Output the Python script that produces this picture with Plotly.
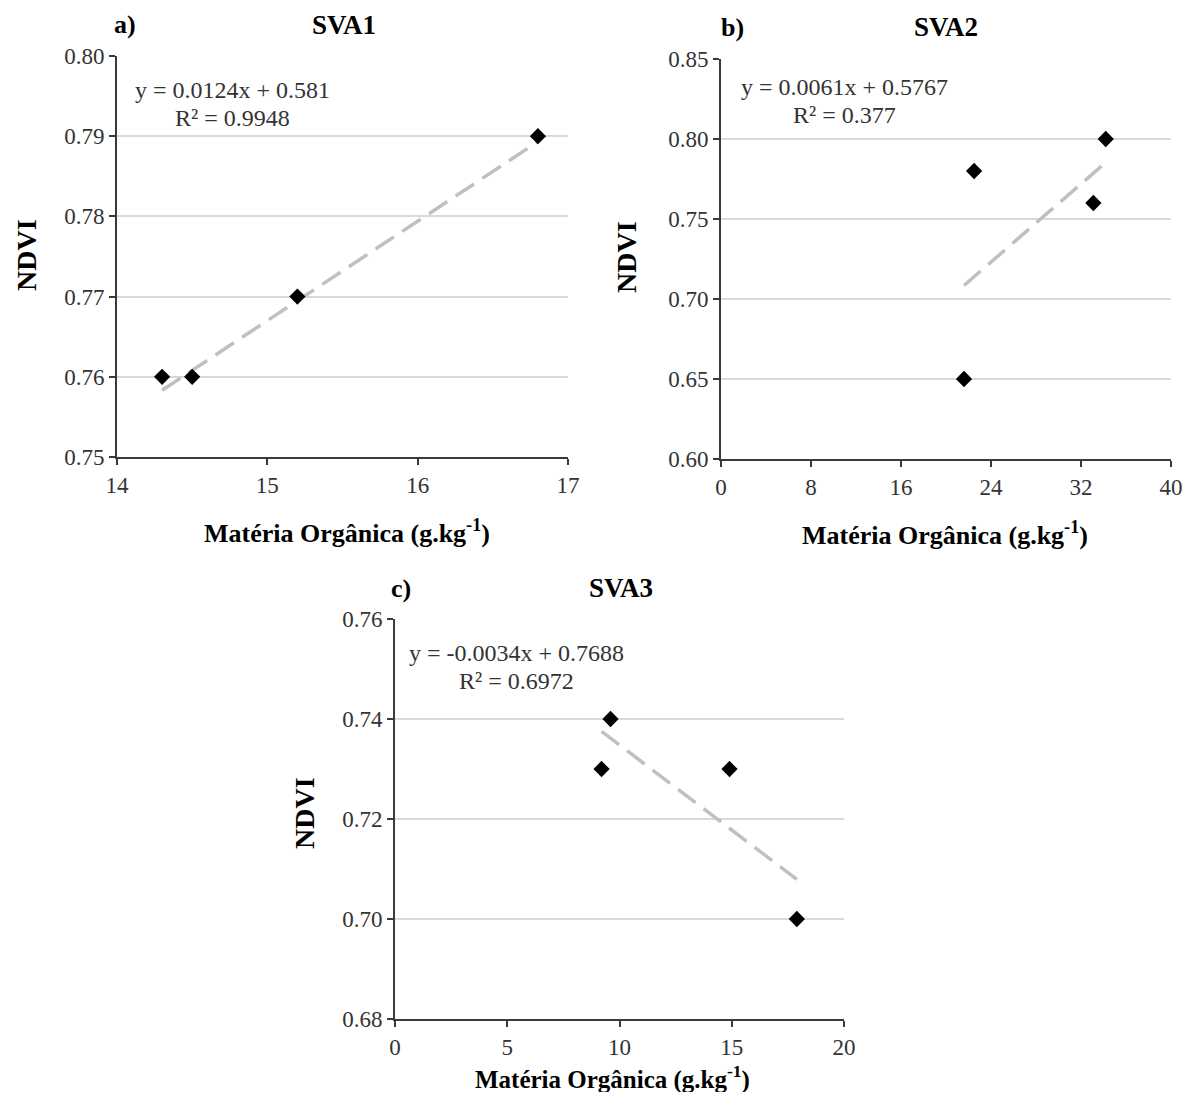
import plotly.graph_objects as go

# page is 1192x1100; the html body has an 8px margin, so the figure is drawn 8px in
PAGE_OFF = 8
W, H = 1192 - 2 * PAGE_OFF, 1100 - 2 * PAGE_OFF

# ---------------- data ----------------
panel_labels = ["a)", "b)", "c)"]
panel_titles = ["SVA1", "SVA2", "SVA3"]

mo_a = [14.3, 14.5, 15.2, 16.8]
ndvi_a = [0.76, 0.76, 0.77, 0.79]
mo_b = [21.6, 22.5, 33.1, 34.2]
ndvi_b = [0.65, 0.78, 0.76, 0.80]
mo_c = [9.2, 9.6, 14.9, 17.9]
ndvi_c = [0.73, 0.74, 0.73, 0.70]

slopes = [0.0124, 0.0061, -0.0034]
intercepts = [0.581, 0.5767, 0.7688]
eq_texts = ["y = 0.0124x + 0.581", "y = 0.0061x + 0.5767", "y = -0.0034x + 0.7688"]
r2_texts = ["R² = 0.9948", "R² = 0.377", "R² = 0.6972"]

x_ranges = [[14, 17], [0, 40], [0, 20]]
x_dticks = [1, 8, 5]
y_ranges = [[0.75, 0.80], [0.60, 0.85], [0.68, 0.76]]
y_dticks = [0.01, 0.05, 0.02]

x_title = "Matéria Orgânica (g.kg<sup>-1</sup>)"
y_title = "NDVI"

xs = [mo_a, mo_b, mo_c]
ys = [ndvi_a, ndvi_b, ndvi_c]

# ---------------- layout geometry (page pixels) ----------------
boxes = [(117, 568, 56, 457), (721, 1171, 59, 459), (395, 844, 619, 1019)]
label_pos = [(112, 25), (719, 27), (389, 588)]
title_pos = [(344, 25), (946, 27), (621, 588)]
eq_pos = [(232, 90, 118), (844, 87, 115), (516, 653, 681)]
xt_pos = [(347, 531), (945, 533), (612, 1077)]
xt_size = [26, 26, 25]
yt_pos = [(27, 255), (627, 257), (304, 813)]

def px(x):
    return (x - PAGE_OFF) / W

def py(y):
    return 1 - (y - PAGE_OFF) / H

FONT = "Liberation Serif"
AX = "#3a3a3a"

fig = go.Figure()
annotations = []
for i in range(3):
    sfx = "" if i == 0 else str(i + 1)
    xa, ya = "x" + sfx, "y" + sfx
    x0 = min(xs[i]); x1 = max(xs[i])
    fig.add_trace(go.Scatter(
        x=[x0, x1], y=[slopes[i] * x0 + intercepts[i], slopes[i] * x1 + intercepts[i]],
        mode="lines", line=dict(color="#c0c0c0", width=3.5, dash="22px,10px"),
        xaxis=xa, yaxis=ya, showlegend=False, hoverinfo="skip"))
    fig.add_trace(go.Scatter(
        x=xs[i], y=ys[i], mode="markers",
        marker=dict(symbol="diamond", size=12.5, color="black"),
        xaxis=xa, yaxis=ya, showlegend=False, cliponaxis=False))

    l, r, t, b = boxes[i]
    common = dict(showline=True, linecolor=AX, linewidth=2, ticks="outside",
                  ticklen=6, tickwidth=2, tickcolor=AX, zeroline=False, automargin=False,
                  tickfont=dict(family=FONT, size=23, color="#333333"))
    fig.layout["xaxis" + sfx] = dict(
        domain=[px(l), px(r)], anchor=ya, range=x_ranges[i], dtick=x_dticks[i],
        tick0=x_ranges[i][0], showgrid=False, **common)
    fig.layout["yaxis" + sfx] = dict(
        domain=[py(b), py(t)], anchor=xa, range=y_ranges[i], dtick=y_dticks[i],
        tick0=y_ranges[i][0], tickformat=".2f", showgrid=True,
        gridcolor="#d9d9d9", gridwidth=2, **common)

    annotations.append(dict(x=px(label_pos[i][0]), y=py(label_pos[i][1]), xref="paper", yref="paper",
                            text="<b>%s</b>" % panel_labels[i], showarrow=False, xanchor="left",
                            yanchor="middle", font=dict(family=FONT, size=26, color="black")))
    annotations.append(dict(x=px(title_pos[i][0]), y=py(title_pos[i][1]), xref="paper", yref="paper",
                            text="<b>%s</b>" % panel_titles[i], showarrow=False, xanchor="center",
                            yanchor="middle", font=dict(family=FONT, size=27, color="black")))
    annotations.append(dict(x=px(eq_pos[i][0]), y=py(eq_pos[i][1]), xref="paper", yref="paper",
                            text=eq_texts[i], showarrow=False, xanchor="center",
                            yanchor="middle", font=dict(family=FONT, size=24, color="#333333")))
    annotations.append(dict(x=px(eq_pos[i][0]), y=py(eq_pos[i][2]), xref="paper", yref="paper",
                            text=r2_texts[i], showarrow=False, xanchor="center",
                            yanchor="middle", font=dict(family=FONT, size=24, color="#333333")))
    annotations.append(dict(x=px(xt_pos[i][0]), y=py(xt_pos[i][1]), xref="paper", yref="paper",
                            text="<b>%s</b>" % x_title, showarrow=False, xanchor="center",
                            yanchor="middle", font=dict(family=FONT, size=xt_size[i], color="black")))
    annotations.append(dict(x=px(yt_pos[i][0]), y=py(yt_pos[i][1]), xref="paper", yref="paper",
                            text="<b>%s</b>" % y_title, showarrow=False, xanchor="center",
                            yanchor="middle", textangle=-90,
                            font=dict(family=FONT, size=28, color="black")))

fig.update_layout(width=W, height=H, margin=dict(l=0, r=0, t=0, b=0, autoexpand=False),
                  paper_bgcolor="white", plot_bgcolor="white",
                  annotations=annotations, showlegend=False)

fig.write_html("out.html")
